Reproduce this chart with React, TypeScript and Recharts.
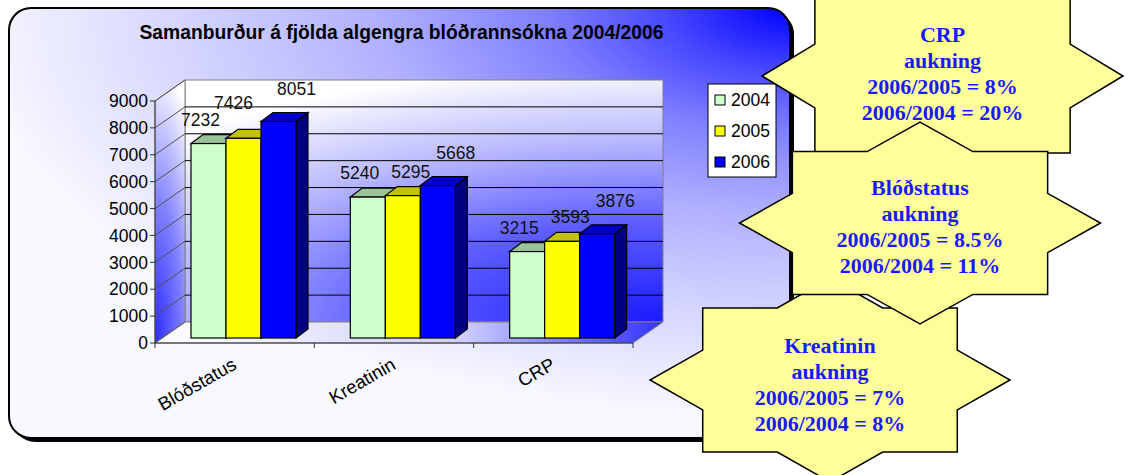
import { Bar, BarChart, CartesianGrid, LabelList, XAxis, YAxis } from "recharts";

const categories = ["Blóðstatus", "Kreatinin", "CRP"];
const years = ["2004", "2005", "2006"];
const values2004 = [7232, 5240, 3215];
const values2005 = [7426, 5295, 3593];
const values2006 = [8051, 5668, 3876];
const yTicks = [0, 1000, 2000, 3000, 4000, 5000, 6000, 7000, 8000, 9000];

const title = "Samanburður á fjölda algengra blóðrannsókna 2004/2006";

const calloutCRP = ["CRP", "aukning", "2006/2005 = 8%", "2006/2004 = 20%"];
const calloutBlod = ["Blóðstatus", "aukning", "2006/2005 = 8.5%", "2006/2004 = 11%"];
const calloutKreat = ["Kreatinin", "aukning", "2006/2005 = 7%", "2006/2004 = 8%"];

const seriesValues = [values2004, values2005, values2006];

const data = categories.map((name, i) => ({
  name,
  y2004: values2004[i],
  y2005: values2005[i],
  y2006: values2006[i],
}));

// look of each series (front / top / side faces) and where its value label sits
const seriesStyle = [
  { key: "y2004", front: "#ccffcc", top: "#99c499", side: "#80a880", labelDx: -8, labelDy: -24 },
  { key: "y2005", front: "#ffff00", top: "#c2c200", side: "#9a9a00", labelDx: 8, labelDy: -24 },
  { key: "y2006", front: "#0000ff", top: "#0000c8", side: "#000080", labelDx: 18, labelDy: -33 },
];

const FONT = '"Liberation Sans", Arial, sans-serif';
const SERIF = '"Liberation Serif", "Times New Roman", serif';

// plot plane in page pixels
const PLOT = { left: 155, top: 101, right: 633, bottom: 343 };
const WALL = { dx: 30, dy: 21 };
const BAR_SHIFT = { dx: 9, dy: -5 };
const BAR_DEPTH = { dx: 12, dy: 9 };
const Y_AXIS_W = 60;
const X_AXIS_H = 60;
const CHART_W = 800;
const CHART_H = 475;

const callouts = [
  { lines: calloutCRP, cx: 942.5, cy: 76, hw: 180.5, hh: 109, firstLine: 34 },
  { lines: calloutKreat, cx: 830, cy: 380, hw: 180, hh: 102, firstLine: 345 },
  { lines: calloutBlod, cx: 920, cy: 223, hw: 180.5, hh: 101, firstLine: 187 },
];

function starPoints(cx: number, cy: number, hw: number, hh: number) {
  const k = Math.SQRT1_2;
  const m = 1 - Math.SQRT1_2;
  const unit = [
    [1, 0], [k, m], [k, k], [m, k], [0, 1], [-m, k], [-k, k], [-k, m],
    [-1, 0], [-k, -m], [-k, -k], [-m, -k], [0, -1], [m, -k], [k, -k], [k, -m],
  ];
  return unit.map(([ux, uy]) => `${cx + ux * hw},${cy + uy * hh}`).join(" ");
}

const renderGridLine = (p: any) => {
  const x1 = p.x1;
  const x2 = p.x2;
  const y = p.y1;
  const pts: number[] = Array.isArray(p.horizontalPoints) && p.horizontalPoints.length ? p.horizontalPoints : [PLOT.top, PLOT.bottom];
  const top = Math.min(...pts);
  const bottom = Math.max(...pts);
  const { dx, dy } = WALL;
  const isEdge = Math.abs(y - top) < 0.5 || Math.abs(y - bottom) < 0.5;
  return (
    <g key={`grid-${p.index}`}>
      {p.index === 0 && (
        <g>
          <polygon
            points={`${x1 + dx},${top - dy} ${x2 + dx},${top - dy} ${x2 + dx},${bottom - dy} ${x1 + dx},${bottom - dy}`}
            fill="url(#wallGrad)"
            stroke="#808080"
          />
          <polygon
            points={`${x1},${top} ${x1 + dx},${top - dy} ${x1 + dx},${bottom - dy} ${x1},${bottom}`}
            fill="url(#sideGrad)"
            stroke="#808080"
          />
          <polygon
            points={`${x1},${bottom} ${x2},${bottom} ${x2 + dx},${bottom - dy} ${x1 + dx},${bottom - dy}`}
            fill="url(#floorGrad)"
            stroke="#808080"
          />
        </g>
      )}
      <line x1={x1} y1={y} x2={x1 + dx} y2={y - dy} stroke="#505050" strokeWidth={1} />
      {!isEdge && <line x1={x1 + dx} y1={y - dy} x2={x2 + dx} y2={y - dy} stroke="#000" strokeWidth={1} />}
    </g>
  );
};

const renderXTick = (p: any) => {
  const { x, y, payload, index } = p;
  const half = (PLOT.right - PLOT.left) / categories.length / 2;
  const tx = x + 3;
  const ty = y + 25;
  return (
    <g>
      <line x1={x - half} y1={y} x2={x - half} y2={y + 5} stroke="#333" />
      {index === categories.length - 1 && <line x1={x + half} y1={y} x2={x + half} y2={y + 5} stroke="#333" />}
      <text
        x={tx}
        y={ty}
        textAnchor="end"
        transform={`rotate(-30 ${tx} ${ty})`}
        fontFamily={FONT}
        fontSize={18.5}
        fill="#000"
      >
        {payload.value}
      </text>
    </g>
  );
};

const make3DBar = (s: (typeof seriesStyle)[number]) => (p: any) => {
  const x = p.x + BAR_SHIFT.dx;
  const y = p.y + BAR_SHIFT.dy;
  const w = p.width;
  const h = p.height;
  const { dx, dy } = BAR_DEPTH;
  return (
    <g>
      <polygon
        points={`${x + w},${y} ${x + w + dx},${y - dy} ${x + w + dx},${y + h - dy} ${x + w},${y + h}`}
        fill={s.side}
        stroke="#000"
        strokeWidth={1.2}
      />
      <polygon
        points={`${x},${y} ${x + dx},${y - dy} ${x + w + dx},${y - dy} ${x + w},${y}`}
        fill={s.top}
        stroke="#000"
        strokeWidth={1.2}
      />
      <rect x={x} y={y} width={w} height={h} fill={s.front} stroke="#000" strokeWidth={1.2} />
    </g>
  );
};

const makeLabel = (si: number) => (p: any) => {
  const s = seriesStyle[si];
  const box = p.viewBox && p.viewBox.width != null ? p.viewBox : p;
  const left = box.x + BAR_SHIFT.dx;
  const top = box.y + BAR_SHIFT.dy;
  const center = left + box.width / 2;
  let cx = center + s.labelDx;
  let cy = top + s.labelDy;
  // lift the label over the next (taller) bar when it would sit on its top face
  const next = seriesValues[si + 1];
  const value = seriesValues[si][p.index];
  if (next && value > 0) {
    const pxPerUnit = box.height / value;
    const nextBack = box.y + box.height + BAR_SHIFT.dy - next[p.index] * pxPerUnit - BAR_DEPTH.dy;
    const nextLeft = left + box.width;
    if (cx + 19.5 > nextLeft + 2 && cy + 7 > nextBack + 4) {
      cy = nextBack - 10;
      cx = center - 10;
    }
  }
  return (
    <text x={cx} y={cy} textAnchor="middle" dominantBaseline="central" fontFamily={FONT} fontSize={17.5} fill="#111">
      {p.value}
    </text>
  );
};

export default function App() {
  return (
    <div style={{ position: "absolute", left: 0, top: 0, width: 1130, height: 475, background: "#fff", overflow: "hidden" }}>
      <svg width={1130} height={475} style={{ position: "absolute", left: 0, top: 0 }}>
        <defs>
          <radialGradient
            id="boxGrad"
            gradientUnits="userSpaceOnUse"
            cx={790}
            cy={8}
            r={820}
            gradientTransform="translate(790 8) scale(1 0.5) translate(-790 -8)"
          >
            <stop offset="0" stopColor="#0000ff" />
            <stop offset="0.15" stopColor="#4747ff" />
            <stop offset="0.3" stopColor="#8080ff" />
            <stop offset="0.5" stopColor="#b0b0ff" />
            <stop offset="0.75" stopColor="#d6d6ff" />
            <stop offset="1" stopColor="#f8f8ff" />
          </radialGradient>
        </defs>
        <rect x={13} y={12} width={781} height={430} rx={22} fill="#000" />
        <rect x={9} y={8} width={781} height={430} rx={22} fill="url(#boxGrad)" stroke="#000" strokeWidth={2} />
        <text
          x={401.5}
          y={32}
          textAnchor="middle"
          dominantBaseline="central"
          fontFamily={FONT}
          fontWeight="bold"
          fontSize={19.3}
          fill="#000"
        >
          {title}
        </text>
      </svg>

      <div style={{ position: "absolute", left: 0, top: 0 }}>
        <svg width={0} height={0} style={{ position: "absolute" }}>
          <defs>
            <radialGradient
              id="wallGrad"
              gradientUnits="userSpaceOnUse"
              cx={PLOT.right + WALL.dx}
              cy={PLOT.bottom - WALL.dy}
              r={700}
              gradientTransform={`translate(${PLOT.right + WALL.dx} ${PLOT.bottom - WALL.dy}) scale(1 0.37) translate(${-(PLOT.right + WALL.dx)} ${-(PLOT.bottom - WALL.dy)})`}
            >
              <stop offset="0" stopColor="#1a1aff" />
              <stop offset="0.4" stopColor="#6060ff" />
              <stop offset="0.7" stopColor="#b8b8ff" />
              <stop offset="1" stopColor="#ffffff" />
            </radialGradient>
            <radialGradient
              id="sideGrad"
              gradientUnits="userSpaceOnUse"
              cx={PLOT.left}
              cy={PLOT.bottom}
              r={280}
              gradientTransform={`translate(${PLOT.left} ${PLOT.bottom}) scale(0.2 1) translate(${-PLOT.left} ${-PLOT.bottom})`}
            >
              <stop offset="0" stopColor="#2a2aff" />
              <stop offset="0.5" stopColor="#8080ff" />
              <stop offset="1" stopColor="#ffffff" />
            </radialGradient>
            <linearGradient id="floorGrad" gradientUnits="userSpaceOnUse" x1={PLOT.left} y1={PLOT.bottom - WALL.dy} x2={PLOT.right + WALL.dx} y2={PLOT.bottom}>
              <stop offset="0" stopColor="#ffffff" />
              <stop offset="0.6" stopColor="#d0d0ff" />
              <stop offset="1" stopColor="#3030ff" />
            </linearGradient>
          </defs>
        </svg>
        <BarChart
          width={CHART_W}
          height={CHART_H}
          data={data}
          margin={{
            top: PLOT.top,
            bottom: CHART_H - PLOT.bottom - X_AXIS_H,
            left: PLOT.left - Y_AXIS_W,
            right: CHART_W - PLOT.right,
          }}
          barGap={0}
          barSize={35}
        >
          <CartesianGrid vertical={false} horizontal={renderGridLine} />
          <XAxis
            dataKey="name"
            height={X_AXIS_H}
            interval={0}
            tickSize={0}
            tickMargin={0}
            tick={renderXTick}
            axisLine={{ stroke: "#333" }}
          />
          <YAxis
            domain={[0, 9000]}
            ticks={yTicks}
            interval={0}
            width={Y_AXIS_W}
            tickSize={5}
            tick={{ fontSize: 17.5, fill: "#000", fontFamily: FONT }}
            axisLine={{ stroke: "#333" }}
            tickLine={{ stroke: "#333" }}
          />
          {seriesStyle.map((s, i) => (
            <Bar key={s.key} dataKey={s.key} name={years[i]} fill={s.front} shape={make3DBar(s)} isAnimationActive={false}>
              <LabelList dataKey={s.key} content={makeLabel(i)} />
            </Bar>
          ))}
        </BarChart>
      </div>

      <svg width={1130} height={475} style={{ position: "absolute", left: 0, top: 0, pointerEvents: "none" }}>
        <rect x={708} y={84} width={68} height={93} fill="#fff" stroke="#000" strokeWidth={1} />
        {seriesStyle.map((s, i) => (
          <g key={s.key}>
            <rect x={715} y={95 + i * 31} width={10} height={10} fill={s.front} stroke="#000" strokeWidth={1} />
            <text x={731} y={100 + i * 31} dominantBaseline="central" fontFamily={FONT} fontSize={17.5} fill="#000">
              {years[i]}
            </text>
          </g>
        ))}
        {callouts.map((c, ci) => (
          <g key={ci}>
            <polygon points={starPoints(c.cx, c.cy, c.hw, c.hh)} fill="#ffff99" stroke="#000" strokeWidth={1.5} />
            {c.lines.map((line, li) => (
              <text
                key={li}
                x={c.cx}
                y={c.firstLine + li * 26.3}
                textAnchor="middle"
                dominantBaseline="central"
                fontFamily={SERIF}
                fontWeight="bold"
                fontSize={22}
                fill="#1a1aff"
              >
                {line}
              </text>
            ))}
          </g>
        ))}
      </svg>
    </div>
  );
}
